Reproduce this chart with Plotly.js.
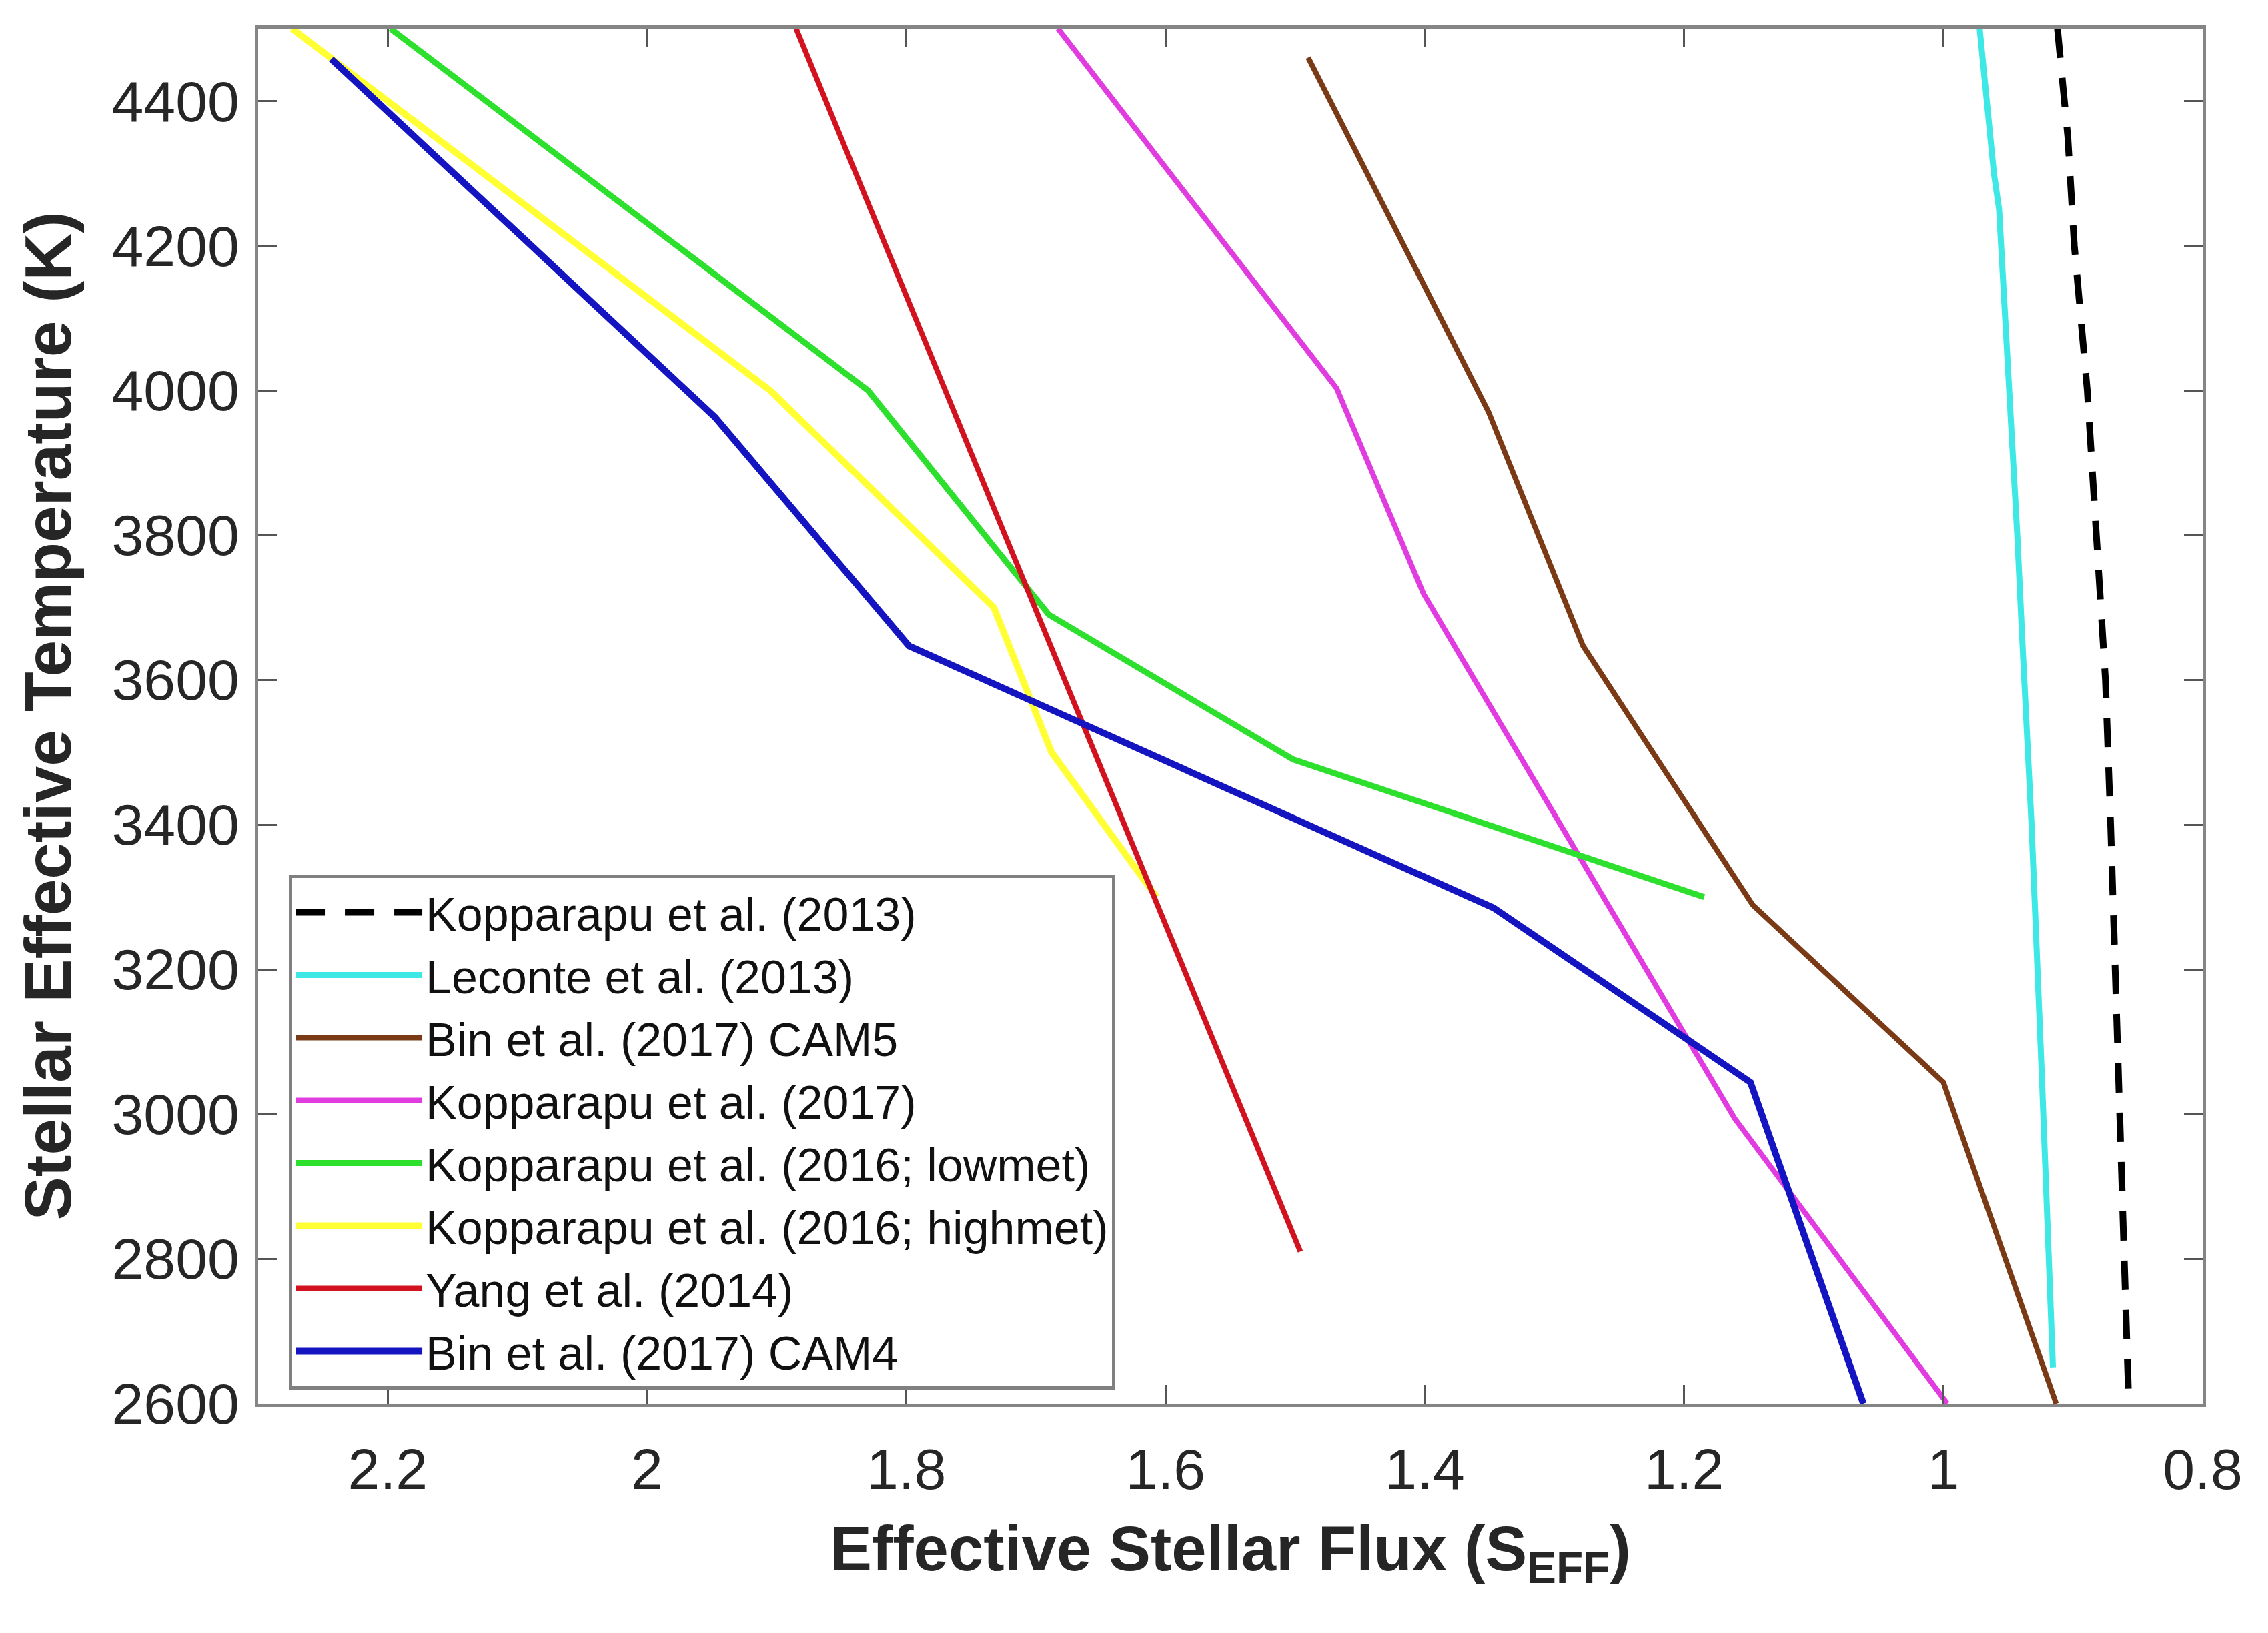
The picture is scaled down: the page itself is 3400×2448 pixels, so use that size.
<!DOCTYPE html>
<html>
<head>
<meta charset="utf-8">
<script src="https://cdn.plot.ly/plotly-3.0.1.min.js"></script>
<style>html,body{margin:0;padding:0;background:#fff;}#chart{width:3400px;height:2448px;}</style>
</head>
<body>
<div id="chart"></div>
<script>
// Series names (legend order)
const seriesNames = [
  "Kopparapu et al. (2013)",
  "Leconte et al. (2013)",
  "Bin et al. (2017) CAM5",
  "Kopparapu et al. (2017)",
  "Kopparapu et al. (2016; lowmet)",
  "Kopparapu et al. (2016; highmet)",
  "Yang et al. (2014)",
  "Bin et al. (2017) CAM4"
];

// Kopparapu et al. (2013)
const kop13Teff = [4500, 4350, 4200, 4000, 3800, 3600, 3400, 3200, 3000, 2800, 2600];
const kop13Seff = [0.912, 0.904, 0.899, 0.889, 0.882, 0.875, 0.871, 0.8675, 0.864, 0.861, 0.857];

// Leconte et al. (2013)
const lec13Teff = [4500, 4400, 4300, 4250, 4100, 3950, 3800, 3650, 3400, 3050, 2650];
const lec13Seff = [0.972, 0.967, 0.961, 0.957, 0.952, 0.947, 0.943, 0.939, 0.932, 0.924, 0.9155];

// Bin et al. (2017) CAM5
const cam5Teff = [4460, 3971, 3647, 3289, 3044, 2600];
const cam5Seff = [1.490, 1.351, 1.278, 1.147, 1.000, 0.913];

// Kopparapu et al. (2017)
const kop17Teff = [4500, 4003, 3719, 2994, 2600];
const kop17Seff = [1.683, 1.468, 1.401, 1.161, 0.997];

// Kopparapu et al. (2016; lowmet)
const lowTeff = [4500, 4000, 3690, 3490, 3300];
const lowSeff = [2.198, 1.8295, 1.690, 1.5015, 1.1845];

// Kopparapu et al. (2016; highmet)
const highTeff = [4500, 4000, 3700, 3500, 3300];
const highSeff = [2.274, 1.905, 1.7325, 1.688, 1.607];

// Yang et al. (2014)
const yangTeff = [4500, 2810];
const yangSeff = [1.885, 1.496];

// Bin et al. (2017) CAM4
const cam4Teff = [4458, 3963, 3647, 3285, 3044, 2600];
const cam4Seff = [2.2436, 1.9475, 1.798, 1.347, 1.1488, 1.0617];

// Axis ticks
const xTickVals = [2.2, 2.0, 1.8, 1.6, 1.4, 1.2, 1.0, 0.8];
const xTickText = ["2.2", "2", "1.8", "1.6", "1.4", "1.2", "1", "0.8"];
const yTickVals = [2600, 2800, 3000, 3200, 3400, 3600, 3800, 4000, 4200, 4400];
const yTickText = yTickVals.map(String);

const xs = [kop13Seff, lec13Seff, cam5Seff, kop17Seff, lowSeff, highSeff, yangSeff, cam4Seff];
const ys = [kop13Teff, lec13Teff, cam5Teff, kop17Teff, lowTeff, highTeff, yangTeff, cam4Teff];
const colors = ["#000000", "#3ee8e4", "#7a3a16", "#e03ce0", "#2ee02e", "#ffff33", "#d2121f", "#1414c0"];
const widths = [10, 9, 8, 8, 9, 10, 8, 10];
const dashes = ["44px,30px", "solid", "solid", "solid", "solid", "solid", "solid", "solid"];

const traces = seriesNames.map((name, i) => ({
  type: "scatter",
  mode: "lines",
  name: name,
  x: xs[i],
  y: ys[i],
  line: {color: colors[i], width: widths[i], dash: dashes[i]}
}));

const fontFam = "Liberation Sans, Arial, Helvetica, sans-serif";
const axisCommon = {
  showgrid: false,
  zeroline: false,
  showline: true,
  linecolor: "#858585",
  linewidth: 5,
  mirror: "ticks",
  ticks: "inside",
  ticklen: 28,
  tickwidth: 3,
  tickcolor: "#555555",
  tickfont: {family: fontFam, size: 86, color: "#262626"}
};

const layout = {
  width: 3400,
  height: 2448,
  margin: {l: 387, r: 98, t: 43, b: 344, pad: 0},
  paper_bgcolor: "#ffffff",
  plot_bgcolor: "#ffffff",
  showlegend: true,
  xaxis: Object.assign({}, axisCommon, {
    range: [2.3, 0.8],
    tickmode: "array",
    tickvals: xTickVals,
    ticktext: xTickText,
    ticklabelstandoff: 20,
    title: {
      text: "Effective Stellar Flux (S<sub>EFF</sub>)",
      font: {family: fontFam, size: 94, color: "#262626", weight: "bold"},
      standoff: 40
    }
  }),
  yaxis: Object.assign({}, axisCommon, {
    range: [2600, 4500],
    tickmode: "array",
    tickvals: yTickVals,
    ticktext: yTickText,
    ticklabelstandoff: 6,
    title: {
      text: "Stellar Effective Temperature (K)",
      font: {family: fontFam, size: 98, color: "#262626", weight: "bold"},
      standoff: 30
    }
  }),
  legend: {
    x: 0.0158,
    y: 0.385,
    xanchor: "left",
    yanchor: "top",
    bgcolor: "#ffffff",
    bordercolor: "#808080",
    borderwidth: 5,
    itemwidth: 190,
    tracegroupgap: 0,
    font: {family: fontFam, size: 70, color: "#111111"}
  }
};

Plotly.newPlot("chart", traces, layout, {staticPlot: true, displayModeBar: false});
</script>
</body>
</html>
